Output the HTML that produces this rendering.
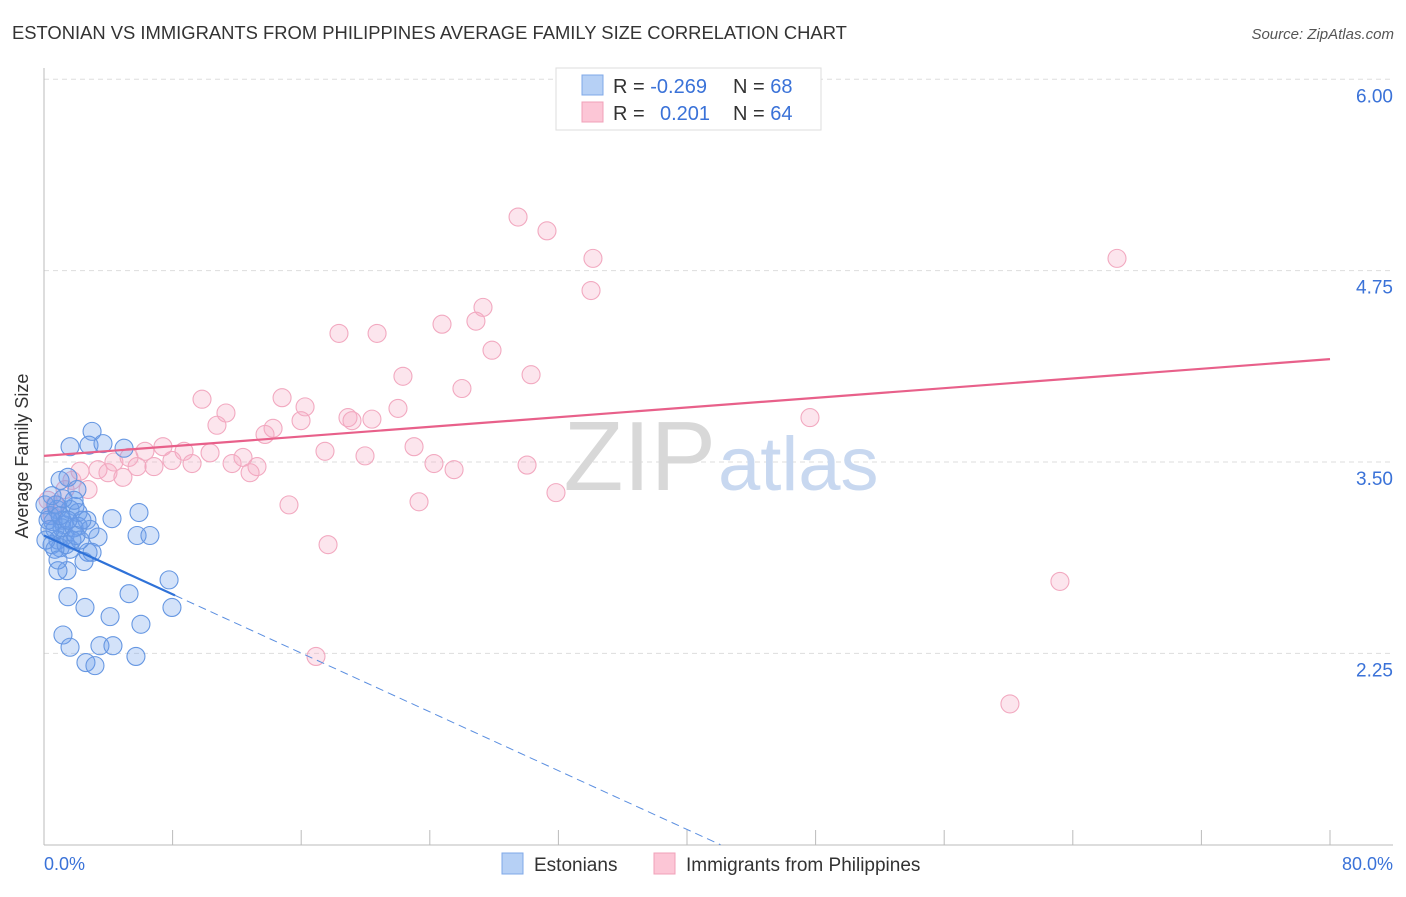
<!DOCTYPE html>
<html><head><meta charset="utf-8"><style>
body{margin:0;background:#fff;font-family:"Liberation Sans",sans-serif;}
svg text{font-family:"Liberation Sans",sans-serif;}
</style></head><body>
<svg id="chart" width="1406" height="892" viewBox="0 0 1406 892" xmlns="http://www.w3.org/2000/svg">
<text x="12" y="39" font-size="18.4" fill="#333">ESTONIAN VS IMMIGRANTS FROM PHILIPPINES AVERAGE FAMILY SIZE CORRELATION CHART</text>
<text x="1394" y="39" font-size="15" fill="#555" font-style="italic" text-anchor="end">Source: ZipAtlas.com</text>
<g id="grid"></g>
<text x="716" y="490" font-size="98" fill="#d8d8d8" text-anchor="end" font-family="Liberation Serif">ZIP</text>
<text x="718" y="490" font-size="76" fill="#c8d8f0">atlas</text>
<line x1="44" y1="68" x2="44" y2="845" stroke="#bbb"/>
<line x1="44" y1="845" x2="1393" y2="845" stroke="#bbb"/>
<g id="ticks"></g>
<g id="pts"></g>
<g id="lines"></g>
<text x="28" y="456" font-size="18" fill="#333" text-anchor="middle" transform="rotate(-90 28 456)">Average Family Size</text>
<text x="44" y="870" font-size="18" fill="#3a72d8">0.0%</text>
<text x="1393" y="870" font-size="18" fill="#3a72d8" text-anchor="end">80.0%</text>
<g>
<rect x="556" y="68" width="265" height="62" fill="#fff" stroke="#ddd"/>
<rect x="582" y="75" width="21" height="20" fill="#b6d0f5" stroke="#7fa8e8"/>
<rect x="582" y="102" width="21" height="20" fill="#fcc6d6" stroke="#f0a0b8"/>
<text x="613" y="93" font-size="20" fill="#333">R = <tspan fill="#3a72d8">-0.269</tspan></text>
<text x="733" y="93" font-size="20" fill="#333">N = <tspan fill="#3a72d8">68</tspan></text>
<text x="613" y="120" font-size="20" fill="#333">R = </text>
<text x="660" y="120" font-size="20" fill="#3a72d8">0.201</text>
<text x="733" y="120" font-size="20" fill="#333">N = <tspan fill="#3a72d8">64</tspan></text>
</g>
<g>
<rect x="502" y="853" width="21" height="21" fill="#b6d0f5" stroke="#7fa8e8"/>
<text x="534" y="871" font-size="19" fill="#333">Estonians</text>
<rect x="654" y="853" width="21" height="21" fill="#fcc6d6" stroke="#f0a0b8"/>
<text x="686" y="871" font-size="19" fill="#333">Immigrants from Philippines</text>
</g>
</svg>
<script>
const yTicks=[6.00,4.75,3.50,2.25];
const xTickCount=10;
const blueX=[2.99,1.62,2.80,3.67,4.98,1.49,1.00,2.05,1.93,0.81,1.62,2.12,1.12,0.37,0.56,2.67,1.24,2.12,4.23,5.91,3.36,5.79,6.59,0.68,1.31,0.87,0.50,1.00,1.62,2.74,2.99,2.49,1.43,0.87,7.78,1.49,5.29,2.55,4.11,7.96,6.03,1.18,1.62,3.48,4.29,2.61,3.17,5.72,0.06,0.25,0.68,1.12,1.87,2.24,1.37,0.75,0.37,1.74,1.00,2.86,0.12,2.36,0.87,1.87,0.50,1.49,1.99,1.18];
const blueY=[3.70,3.60,3.61,3.62,3.59,3.40,3.38,3.32,3.21,3.19,3.19,3.17,3.12,3.15,3.11,3.12,3.09,3.08,3.13,3.17,3.01,3.02,3.02,3.06,3.02,2.99,2.96,2.94,2.93,2.91,2.91,2.85,2.79,2.79,2.73,2.62,2.64,2.55,2.49,2.55,2.44,2.37,2.29,2.30,2.30,2.19,2.17,2.23,3.22,3.12,2.93,3.07,3.07,2.99,2.96,3.22,3.06,2.99,3.15,3.06,2.99,3.12,2.86,3.25,3.28,3.12,3.02,3.26];
const pinkX=[29.49,31.29,34.15,66.75,34.03,27.31,26.87,24.76,18.35,20.72,27.87,22.33,30.30,26.00,9.83,14.81,11.32,16.24,22.02,18.91,19.16,20.40,47.65,10.76,14.25,15.99,13.75,7.40,6.28,8.71,10.33,17.48,19.97,23.02,12.38,4.35,5.29,3.36,3.98,5.79,6.84,7.96,9.21,11.70,13.25,12.82,24.26,25.51,30.05,4.91,2.24,1.74,2.74,1.31,31.85,15.24,23.33,17.67,63.20,16.92,60.09,0.25,0.68,0.50];
const pinkY=[5.10,5.01,4.83,4.83,4.62,4.51,4.42,4.40,4.34,4.34,4.23,4.06,4.07,3.98,3.91,3.92,3.82,3.86,3.85,3.79,3.77,3.78,3.79,3.74,3.72,3.77,3.68,3.60,3.57,3.57,3.56,3.57,3.54,3.60,3.53,3.50,3.53,3.45,3.43,3.47,3.47,3.51,3.49,3.49,3.47,3.43,3.49,3.45,3.48,3.40,3.44,3.38,3.32,3.32,3.30,3.22,3.24,2.96,2.72,2.23,1.92,3.25,3.22,3.15];
const blueTrend=[3.02,-0.048,8.15];
const pinkTrend=[3.54,0.0079];
const NS="http://www.w3.org/2000/svg";
const xs=v=>44+v*16.075;
const ys=v=>462-(v-3.5)*153.1;
function mk(tag,attrs,parent){const e=document.createElementNS(NS,tag);for(const k in attrs)e.setAttribute(k,attrs[k]);parent.appendChild(e);return e;}
const grid=document.getElementById('grid');
yTicks.forEach(t=>{
 const l=mk('line',{x1:44,x2:1393,y1:ys(t),y2:ys(t),stroke:'#ddd','stroke-dasharray':'5,4'},grid);
 
 
 const tx=mk('text',{x:1393,y:ys(t)+23,'font-size':19,fill:'#3a72d8','text-anchor':'end'},grid);
 tx.textContent=t.toFixed(2);
 
 
});
const ticks=document.getElementById('ticks');
for(let i=0;i<=xTickCount;i++){
 const x=xs(i*8);
 const l=mk('line',{x1:x,x2:x,y1:830,y2:845,stroke:'#bbb'},ticks);
 
 
}
const pts=document.getElementById('pts');
pinkX.forEach((v,i)=>{
 const c=mk('circle',{cx:xs(v),cy:ys(pinkY[i]),r:9,fill:'rgba(246,170,195,0.3)',stroke:'#f2a9c0','stroke-width':1.1},pts);
 
 
});
blueX.forEach((v,i)=>{
 const c=mk('circle',{cx:xs(v),cy:ys(blueY[i]),r:9,fill:'rgba(110,160,235,0.3)',stroke:'#6697e2','stroke-width':1.1},pts);
 
 
});
const lines=document.getElementById('lines');
const pl=mk('line',{x1:xs(0),y1:ys(pinkTrend[0]),x2:xs(80),y2:ys(pinkTrend[0]+80*pinkTrend[1]),stroke:'#e8608a','stroke-width':2.2},lines);


const bEnd=(1.0-blueTrend[0])/blueTrend[1];
const bl=mk('line',{x1:xs(0),y1:ys(blueTrend[0]),x2:xs(blueTrend[2]),y2:ys(blueTrend[0]+blueTrend[1]*blueTrend[2]),stroke:'#2f72d8','stroke-width':2.2},lines);


const bd=mk('line',{x1:xs(blueTrend[2]),y1:ys(blueTrend[0]+blueTrend[1]*blueTrend[2]),x2:xs(bEnd),y2:ys(1.0),stroke:'#5a8ee0','stroke-width':1,'stroke-dasharray':'8,5'},lines);


</script>
</body></html>
